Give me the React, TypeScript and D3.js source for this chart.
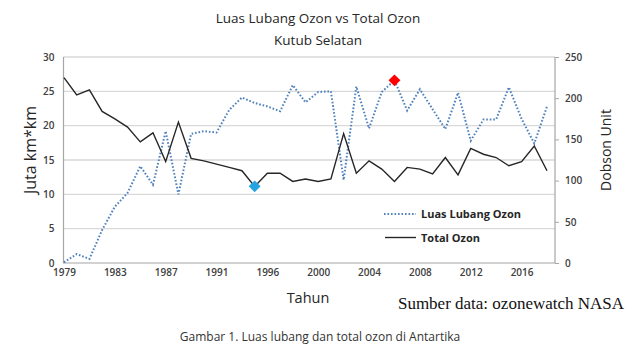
import React, { useEffect, useRef } from 'react';
import * as d3 from 'd3';

// NASA ozonewatch, 1995 tidak ada data
const years = [
	'1979', '1980', '1981', '1982', '1983', '1984', '1985', '1986', '1987', '1988',
	'1989', '1990', '1991', '1992', '1993', '1994', '1996', '1997', '1998', '1999',
	'2000', '2001', '2002', '2003', '2004', '2005', '2006', '2007', '2008', '2009',
	'2010', '2011', '2012', '2013', '2014', '2015', '2016', '2017', '2018',
];

// Luas lubang ozon (juta km2), sumbu kiri
const holeArea = [
	0.1, 1.3, 0.6, 4.8, 8.2, 10.2, 14.1, 11.4, 19.2, 10.0,
	18.8, 19.2, 19.0, 22.3, 24.1, 23.3, 22.8, 22.1, 25.9, 23.4,
	24.9, 25.0, 12.1, 25.7, 19.6, 24.9, 26.6, 22.2, 25.3, 22.4,
	19.5, 24.8, 17.8, 20.9, 20.9, 25.6, 21.0, 17.4, 22.8,
];

// Total ozon minimum (DU), sumbu kanan
const totalOzone = [
	225, 204, 210, 184, 175, 165, 147, 158, 123, 171,
	127, 124, 120, 116, 112, 93, 109, 109, 99, 102,
	99, 102, 157, 109, 124, 114, 99, 116, 114, 108,
	128, 107, 139, 132, 128, 118, 123, 142, 112,
];

const xTickYears = ['1979', '1983', '1987', '1991', '1996', '2000', '2004', '2008', '2012', '2016'];
const leftTicks = [0, 5, 10, 15, 20, 25, 30];
const rightTicks = [0, 50, 100, 150, 200, 250];

const minYear = '1994';
const maxYear = '2006';

const App: React.FC = () => {
	const svgRef = useRef<SVGSVGElement | null>(null);

	useEffect(() => {
		if (svgRef.current == null) return;

		const width = 640;
		const height = 360;
		const left = 63.5;
		const right = 555;
		const top = 57;
		const bottom = 263;
		const font = '"Open Sans", sans-serif';
		const tickColor = '#404040';

		const x = d3.scalePoint<string>().domain(years).range([64, 547]);
		const yL = d3.scaleLinear().domain([0, 30]).range([bottom, top]);
		const yR = d3.scaleLinear().domain([0, 250]).range([bottom, top]);

		const svg = d3.select(svgRef.current);
		svg.selectAll('*').remove();
		svg.attr('width', width).attr('height', height);

		svg.append('rect').attr('width', width).attr('height', height).attr('fill', '#fff');

		// grid
		svg.append('g')
			.selectAll('line')
			.data(leftTicks.slice(1))
			.join('line')
			.attr('x1', left).attr('x2', right)
			.attr('y1', d => yL(d)).attr('y2', d => yL(d))
			.attr('stroke', '#d9d9d9').attr('stroke-width', 1.3);

		// axis lines
		svg.append('path')
			.attr('d', `M${left},${top}V${bottom}H${right}V${top}`)
			.attr('fill', 'none').attr('stroke', '#a6a6a6').attr('stroke-width', 1.2);

		// left axis
		const gl = svg.append('g')
			.attr('transform', `translate(${left},0)`)
			.call(d3.axisLeft(yL).tickValues(leftTicks).tickSize(0).tickPadding(9));
		gl.select('.domain').remove();

		// right axis
		const gr = svg.append('g')
			.attr('transform', `translate(${right},0)`)
			.call(d3.axisRight(yR).tickValues(rightTicks).tickSize(4).tickPadding(6));
		gr.select('.domain').remove();
		gr.selectAll('line').attr('stroke', '#a6a6a6');

		// bottom axis
		const gb = svg.append('g')
			.attr('transform', `translate(0,${bottom})`)
			.call(d3.axisBottom(x).tickValues(xTickYears).tickSize(0).tickPadding(6));
		gb.select('.domain').remove();

		svg.selectAll('.tick text')
			.attr('font-family', font)
			.attr('font-size', 10)
			.attr('font-weight', 600)
			.attr('fill', tickColor);

		// lines
		const holeLine = d3.line<number>()
			.x((_, i) => x(years[i]) as number)
			.y(d => yL(d));
		const ozoneLine = d3.line<number>()
			.x((_, i) => x(years[i]) as number)
			.y(d => yR(d));

		svg.append('path')
			.datum(holeArea)
			.attr('fill', 'none')
			.attr('stroke', '#4f81bd')
			.attr('stroke-width', 2)
			.attr('stroke-dasharray', '1.6,1.9')
			.attr('d', holeLine);

		svg.append('path')
			.datum(totalOzone)
			.attr('fill', 'none')
			.attr('stroke', '#262626')
			.attr('stroke-width', 1.4)
			.attr('d', ozoneLine);

		// markers
		const diamond = d3.symbol().type(d3.symbolDiamond2).size(90);
		const iMin = years.indexOf(minYear);
		const iMax = years.indexOf(maxYear);
		svg.append('path')
			.attr('d', diamond())
			.attr('transform', `translate(${x(minYear)},${yR(totalOzone[iMin])})`)
			.attr('fill', '#26a4e2');
		svg.append('path')
			.attr('d', diamond())
			.attr('transform', `translate(${x(maxYear)},${yL(holeArea[iMax])})`)
			.attr('fill', '#ff0000');

		// legend
		const lg = svg.append('g');
		lg.append('line')
			.attr('x1', 384).attr('x2', 416).attr('y1', 214).attr('y2', 214)
			.attr('stroke', '#4f81bd').attr('stroke-width', 2).attr('stroke-dasharray', '1.6,1.9');
		lg.append('line')
			.attr('x1', 385).attr('x2', 416).attr('y1', 237.5).attr('y2', 237.5)
			.attr('stroke', '#262626').attr('stroke-width', 1.4);
		lg.append('text')
			.attr('x', 421).attr('y', 218).text('Luas Lubang Ozon')
			.attr('font-family', font).attr('font-size', 11).attr('font-weight', 700).attr('fill', '#262626');
		lg.append('text')
			.attr('x', 421).attr('y', 241.5).text('Total Ozon')
			.attr('font-family', font).attr('font-size', 11).attr('font-weight', 700).attr('fill', '#262626');

		// titles
		const txt = (tx: number, ty: number, s: string, size: number, opts: { rotate?: boolean, family?: string, color?: string } = {}) => {
			const t = svg.append('text')
				.attr('text-anchor', 'middle')
				.attr('font-family', opts.family || font)
				.attr('font-size', size)
				.attr('fill', opts.color || '#262626')
				.text(s);
			if (opts.rotate) t.attr('transform', `translate(${tx},${ty}) rotate(-90)`);
			else t.attr('x', tx).attr('y', ty);
			return t;
		};

		txt(318, 23, 'Luas Lubang Ozon vs Total Ozon', 13.5);
		txt(318, 45, 'Kutub Selatan', 13.5);
		txt(36, 150, 'Juta km*km', 16, { rotate: true });
		txt(611, 150, 'Dobson Unit', 14, { rotate: true });
		txt(308, 303, 'Tahun', 14.5);
		txt(511, 309, 'Sumber data: ozonewatch NASA', 17, { family: '"Liberation Serif", "Times New Roman", serif', color: '#111' });
		txt(320, 341, 'Gambar 1. Luas lubang dan total ozon di Antartika', 12, { color: '#333' });
	}, []);

	return (
		<svg ref={svgRef} style={{ position: 'absolute', left: 0, top: 0 }}></svg>
	);
};

export default App;
